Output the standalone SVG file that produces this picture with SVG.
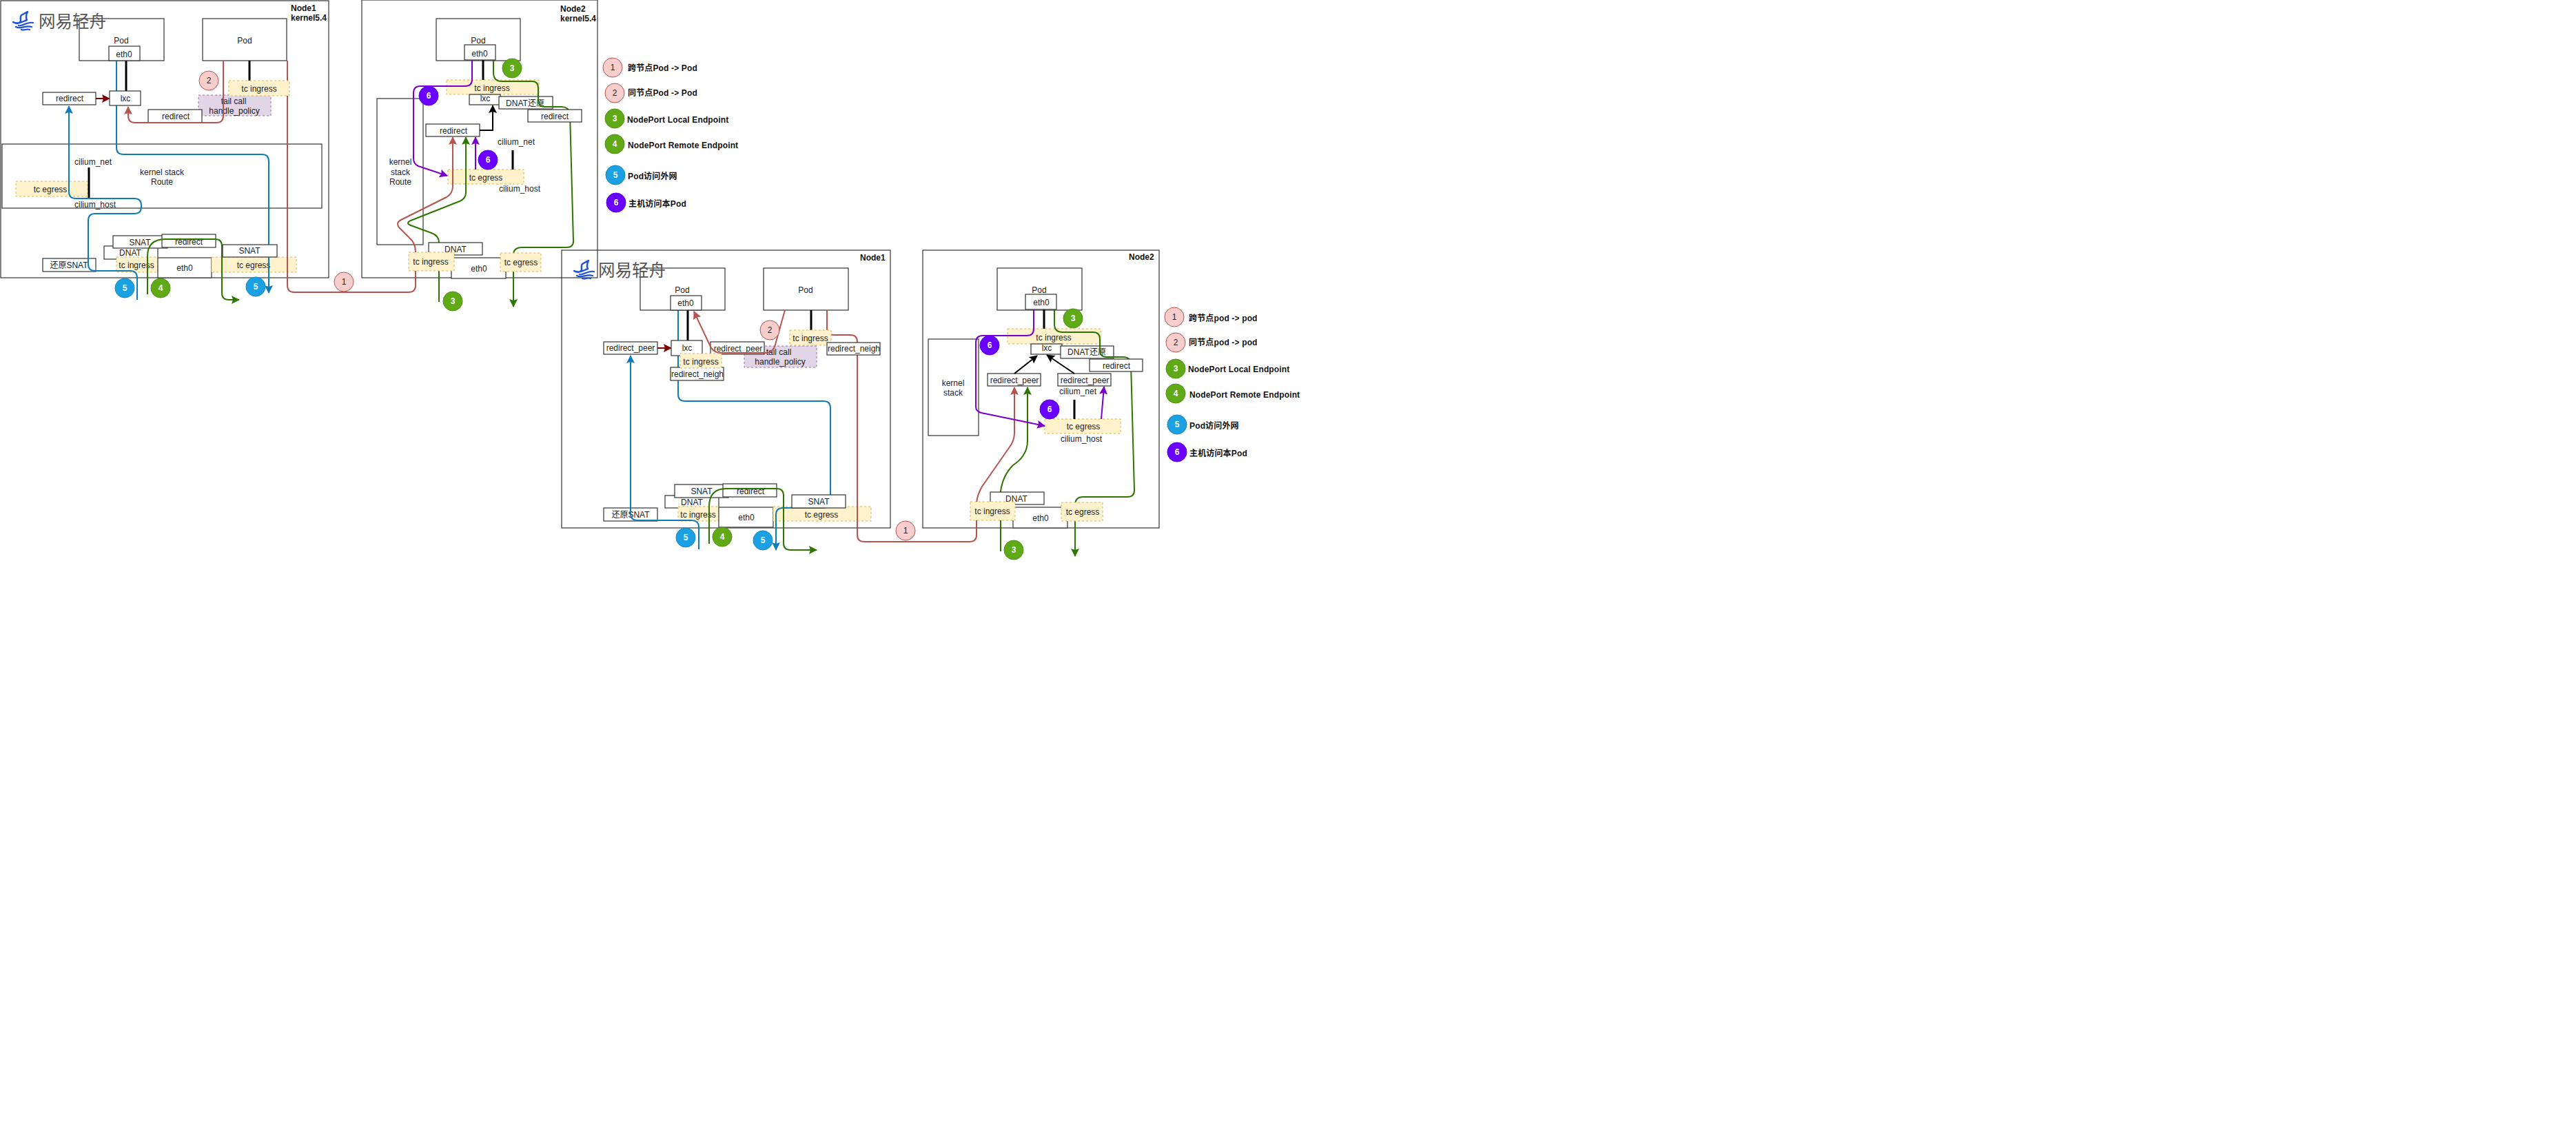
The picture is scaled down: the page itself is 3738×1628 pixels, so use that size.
<svg xmlns="http://www.w3.org/2000/svg" width="3738" height="1628" viewBox="0 0 3738 1628">
<style>
text{font-family:"Liberation Sans","Noto Sans CJK SC",sans-serif;font-size:12px;fill:#222;text-anchor:middle}
.box{fill:#fff;stroke:#333;stroke-width:1.2}
.frame{fill:none;stroke:#333;stroke-width:1.2}
.tc{fill:#fff2cc;stroke:#d6b656;stroke-width:1;stroke-dasharray:3 3}
.tail{fill:#e1d5e7;stroke:#9673a6;stroke-width:1;stroke-dasharray:3 3}
.bar{fill:none;stroke:#000;stroke-width:3}
.lab{font-weight:bold;text-anchor:start;fill:#111}
#legend1 .lab,#legend2 .lab{letter-spacing:.15px}
.logo{font-size:24.5px;fill:#555;text-anchor:start}
.c{fill:none;stroke-width:2}
.red{stroke:#b85450}.blue{stroke:#0f7cba}.green{stroke:#2d7600}.purple{stroke:#7a00cc}.blk{stroke:#000}.dred{stroke:#7f0000}
.n1{fill:#f8cecc;stroke:#b85450}.n3{fill:#60a917;stroke:#4f9212}.n5{fill:#1ba1e2;stroke:#1689c4}.n6{fill:#6a00ff;stroke:#5a00dd}
.w{fill:#fff;font-weight:bold}
</style>
<defs>
<marker id="mr" markerUnits="userSpaceOnUse" markerWidth="12" markerHeight="12" viewBox="0 0 12 12" refX="11" refY="6" orient="auto"><path d="M0 0L12 6L0 12L2 6Z" fill="#b85450"/></marker>
<marker id="mb" markerUnits="userSpaceOnUse" markerWidth="12" markerHeight="12" viewBox="0 0 12 12" refX="11" refY="6" orient="auto"><path d="M0 0L12 6L0 12L2 6Z" fill="#0f7cba"/></marker>
<marker id="mg" markerUnits="userSpaceOnUse" markerWidth="12" markerHeight="12" viewBox="0 0 12 12" refX="11" refY="6" orient="auto"><path d="M0 0L12 6L0 12L2 6Z" fill="#2d7600"/></marker>
<marker id="mp" markerUnits="userSpaceOnUse" markerWidth="12" markerHeight="12" viewBox="0 0 12 12" refX="11" refY="6" orient="auto"><path d="M0 0L12 6L0 12L2 6Z" fill="#7a00cc"/></marker>
<marker id="mk" markerUnits="userSpaceOnUse" markerWidth="12" markerHeight="12" viewBox="0 0 12 12" refX="11" refY="6" orient="auto"><path d="M0 0L12 6L0 12L2 6Z" fill="#000"/></marker>
<marker id="md" markerUnits="userSpaceOnUse" markerWidth="12" markerHeight="12" viewBox="0 0 12 12" refX="11" refY="6" orient="auto"><path d="M0 0L12 6L0 12L2 6Z" fill="#7f0000"/></marker>
<g id="sail">
<path d="M1 16C6 19 10 18 12 15C12 11 11 8 13 6L22 1C20 5 19 9 21 13C15 15 9 20 1 16Z" fill="#fff" stroke="#1d4fe0" stroke-width="2.4" stroke-linejoin="round"/>
<path d="M9 21C15 23 20 15 30 17M5 23C12 27 19 20 28 23M13 27C17 29 20 25 25 27" fill="none" stroke="#1d4fe0" stroke-width="2.2" stroke-linecap="round"/>
</g>
</defs>
<rect width="3738" height="1628" fill="#fff"/>

<g id="under-nodes">
<g id="a-frame"><rect class="frame" x="1" y="1" width="476" height="402"/><text class="lab" x="422" y="16">Node1</text><text class="lab" x="422" y="30">kernel5.4</text></g>
<g id="a-pod1"><rect class="box" x="115" y="27" width="123" height="61"/><text x="176" y="63">Pod</text></g>
<g id="a-pod2"><rect class="box" x="294" y="27" width="122" height="61"/><text x="355" y="63">Pod</text></g>
<g id="a-redirect1"><rect class="box" x="62" y="134" width="77" height="18"/><text x="101" y="147">redirect</text></g>
<g id="a-tail"><rect class="tail" x="288" y="138" width="105" height="30"/><text x="339" y="151">tail call</text><text x="340" y="165">handle_policy</text></g>
<g id="a-redirect2"><rect class="box" x="215" y="159" width="78" height="19"/><text x="255" y="173">redirect</text></g>
<g id="a-stack"><rect class="frame" x="3" y="209" width="464" height="93"/><text x="235" y="254">kernel stack</text><text x="235" y="268">Route</text></g>
<g id="a-cnet"><text x="135" y="239">cilium_net</text></g>
<g id="a-chost"><text x="138" y="301">cilium_host</text></g>
<g id="a-tcegress1"><rect class="tc" x="23" y="263" width="104" height="22"/><text x="73" y="279">tc egress</text></g>
<g id="a-dnat"><rect class="box" x="151" y="357" width="78" height="19"/><text x="189" y="371">DNAT</text></g>
<g id="a-snat"><rect class="box" x="164" y="342" width="79" height="18"/><text x="203" y="356">SNAT</text></g>
<g id="a-redirect3"><rect class="box" x="235" y="340" width="78" height="19"/><text x="274" y="355">redirect</text></g>
<g id="a-tcingress2"><rect class="tc" x="169" y="373" width="60" height="22"/><text x="198" y="389">tc ingress</text></g>
<g id="a-eth0b"><rect class="box" x="229" y="374" width="78" height="29"/><text x="268" y="393">eth0</text></g>
<g id="a-tcegress2"><rect class="tc" x="307" y="373" width="123" height="22"/><text x="368" y="389">tc egress</text></g>
<g id="a-restore"><rect class="box" x="62" y="375" width="77" height="19"/><text x="100" y="389">还原SNAT</text></g>

<g id="b-frame"><rect class="frame" x="525" y="0" width="342" height="403"/><text class="lab" x="813" y="17">Node2</text><text class="lab" x="813" y="31">kernel5.4</text></g>
<g id="b-pod"><rect class="box" x="633" y="27" width="122" height="61"/><text x="694" y="63">Pod</text></g>
<g id="b-tcingress"><rect class="tc" x="648" y="116" width="134" height="21"/><text x="714" y="132">tc ingress</text></g>
<g id="b-lxc"><rect class="box" x="681" y="137" width="45" height="15"/><text x="704" y="147">lxc</text></g>
<g id="b-dnatr"><rect class="box" x="724" y="140" width="78" height="18"/><text x="762" y="154">DNAT还原</text></g>
<g id="b-redirect1"><rect class="box" x="618" y="180" width="78" height="18"/><text x="658" y="194">redirect</text></g>
<g id="b-stack"><rect class="frame" x="547" y="143" width="67" height="212"/><text x="581" y="239">kernel</text><text x="581" y="254">stack</text><text x="581" y="268">Route</text></g>
<g id="b-cnet"><text x="749" y="210">cilium_net</text></g>
<g id="b-chost"><text x="754" y="278">cilium_host</text></g>
<g id="b-tcegress"><rect class="tc" x="650" y="246" width="110" height="21"/><text x="705" y="262">tc egress</text></g>
<g id="b-eth0b"><rect class="box" x="655" y="374" width="79" height="30"/><text x="695" y="394">eth0</text></g>

<g id="c-frame"><rect class="frame" x="815" y="363" width="477" height="403"/><text class="lab" x="1248" y="378">Node1</text></g>
<g id="c-pod1"><rect class="box" x="929" y="389" width="123" height="61"/><text x="990" y="425">Pod</text></g>
<g id="c-pod2"><rect class="box" x="1108" y="389" width="123" height="61"/><text x="1169" y="425">Pod</text></g>
<g id="c-rpeer1"><rect class="box" x="876" y="496" width="78" height="18"/><text x="915" y="509">redirect_peer</text></g>
<g id="c-tail"><rect class="tail" x="1080" y="502" width="105" height="31"/><text x="1130" y="515">tail call</text><text x="1132" y="529">handle_policy</text></g>
<g id="c-rpeer2"><rect class="box" x="1031" y="496" width="78" height="18"/><text x="1071" y="510">redirect_peer</text></g>
<g id="c-dnat"><rect class="box" x="965" y="719" width="78" height="18"/><text x="1004" y="733">DNAT</text></g>
<g id="c-snat"><rect class="box" x="979" y="703" width="78" height="19"/><text x="1018" y="717">SNAT</text></g>
<g id="c-redirect"><rect class="box" x="1049" y="702" width="78" height="19"/><text x="1089" y="717">redirect</text></g>
<g id="c-tcingress2"><rect class="tc" x="984" y="735" width="59" height="21"/><text x="1013" y="751">tc ingress</text></g>
<g id="c-eth0b"><rect class="box" x="1043" y="736" width="79" height="29"/><text x="1083" y="755">eth0</text></g>
<g id="c-tcegress"><rect class="tc" x="1122" y="735" width="142" height="21"/><text x="1192" y="751">tc egress</text></g>
<g id="c-restore"><rect class="box" x="876" y="737" width="78" height="19"/><text x="915" y="751">还原SNAT</text></g>

<g id="d-frame"><rect class="frame" x="1339" y="363" width="343" height="403"/><text class="lab" x="1638" y="377">Node2</text></g>
<g id="d-pod"><rect class="box" x="1447" y="389" width="123" height="61"/><text x="1508" y="425">Pod</text></g>
<g id="d-tcingress"><rect class="tc" x="1462" y="477" width="135" height="22"/><text x="1529" y="494">tc ingress</text></g>
<g id="d-lxc"><rect class="box" x="1496" y="499" width="45" height="15"/><text x="1519" y="509">lxc</text></g>
<g id="d-dnatr"><rect class="box" x="1539" y="502" width="77" height="18"/><text x="1577" y="515">DNAT还原</text></g>
<g id="d-rpeer1"><rect class="box" x="1433" y="542" width="77" height="18"/><text x="1472" y="556">redirect_peer</text></g>
<g id="d-rpeer2"><rect class="box" x="1535" y="542" width="77" height="18"/><text x="1574" y="556">redirect_peer</text></g>
<g id="d-cnet"><text x="1564" y="572">cilium_net</text></g>
<g id="d-stack"><rect class="frame" x="1347" y="492" width="73" height="140"/><text x="1383" y="560">kernel</text><text x="1383" y="574">stack</text></g>
<g id="d-tcegress"><rect class="tc" x="1516" y="608" width="110" height="21"/><text x="1572" y="623">tc egress</text></g>
<g id="d-chost"><text x="1569" y="641">cilium_host</text></g>
<g id="d-eth0b"><rect class="box" x="1470" y="736" width="79" height="30"/><text x="1510" y="756">eth0</text></g>
</g>

<g id="connectors">
<path class="bar" d="M183 88V132M362 88V117M129 243V287M701 87V116M744 218V246M998 450V494M1177 450V479M1515 449V477M1559 580V608"/>
<path class="c dred" d="M139 143H159" marker-end="url(#md)"/>
<path class="c dred" d="M954 505H974" marker-end="url(#md)"/>
<path class="c red" d="M324 88V168Q324 178 314 178H196Q186 178 186 168V155" marker-end="url(#mr)"/>
<path class="c red" d="M417 88V414Q417 424 427 424H593Q603 424 603 414V365Q603 353 594 345L579 330Q574 323 582 319L648 286Q657 281 657 270V199" marker-end="url(#mr)"/>
<path class="c blue" d="M169 88V214Q169 224 179 224H380Q390 224 390 234V425" marker-end="url(#mb)"/>
<path class="c blue" d="M199 435V403Q199 393 189 393H138Q128 393 128 383V320Q128 310 138 310H195Q205 310 205 300V298Q205 288 195 288H110Q100 288 100 278V154" marker-end="url(#mb)"/>
<path class="c green" d="M214 427V372Q214 347 240 347H312Q322 347 322 357V425Q322 435 332 435H347" marker-end="url(#mg)"/>
<path class="c green" d="M637 438V352Q637 342 626 338L596 327Q588 324 596 320L667 292Q676 288 676 280V199" marker-end="url(#mg)"/>
<path class="c purple" d="M685 87V115Q685 125 675 125H610Q600 125 600 135V230Q600 238 607 241L649 255" marker-end="url(#mp)"/>
<path class="c purple" d="M690 246V199" marker-end="url(#mp)"/>
<path class="c green" d="M716 87V105Q716 118 728 118H772Q781 118 781 128V145Q781 155 791 155H815Q825 155 827 165L832 350Q832 359 822 359H757Q745 359 745 370V445" marker-end="url(#mg)"/>
<path class="c blk" d="M696 189H715V153" marker-end="url(#mk)"/>
<path class="c blue" d="M984 450V572Q984 582 994 582H1195Q1205 582 1205 592V727Q1205 737 1195 737H1136Q1126 737 1126 747V798" marker-end="url(#mb)"/>
<path class="c blue" d="M1014 797V765Q1014 755 1004 755H925Q915 755 915 745V516" marker-end="url(#mb)"/>
<path class="c green" d="M1029 789V735Q1029 709 1054 709H1127Q1137 709 1137 719V788Q1137 798 1147 798H1185" marker-end="url(#mg)"/>
<path class="c red" d="M1139 450L1125 500Q1122 512 1110 512H1046Q1036 512 1031 503L1007 452" marker-end="url(#mr)"/>
<path class="c red" d="M1200 450V476Q1200 486 1210 486H1234Q1244 486 1244 496V776Q1244 786 1254 786H1407Q1417 786 1417 776V730Q1418 718 1425 706L1464 650Q1472 640 1472 628V562" marker-end="url(#mr)"/>
<path class="c green" d="M1452 800V713Q1455 690 1470 675Q1480 668 1484 662Q1491 652 1491 640V562" marker-end="url(#mg)"/>
<path class="c purple" d="M1500 449V477Q1500 487 1490 487H1426Q1416 487 1416 497V590Q1416 597 1424 599L1516 618" marker-end="url(#mp)"/>
<path class="c purple" d="M1598 608L1602 561" marker-end="url(#mp)"/>
<path class="c green" d="M1530 449V470Q1530 482 1542 482H1586Q1596 482 1596 492V508Q1596 518 1606 518H1630Q1640 518 1641 528L1646 711Q1646 721 1636 721H1572Q1560 721 1560 733V807" marker-end="url(#mg)"/>
<path class="c blk" d="M1472 542L1505 516" marker-end="url(#mk)"/>
<path class="c blk" d="M1559 542L1519 515" marker-end="url(#mk)"/>
</g>

<g id="over-nodes">
<g id="a-eth01"><rect class="box" x="158" y="67" width="45" height="21"/><text x="180" y="83">eth0</text></g>
<g id="a-lxc"><rect class="box" x="159" y="132" width="45" height="21"/><text x="182" y="147">lxc</text></g>
<g id="a-tcingress1"><rect class="tc" x="332" y="117" width="88" height="22"/><text x="376" y="133">tc ingress</text></g>
<g id="a-snat2"><rect class="box" x="323" y="355" width="79" height="18"/><text x="362" y="368">SNAT</text></g>
<g id="b-eth0"><rect class="box" x="674" y="65" width="45" height="22"/><text x="696" y="82">eth0</text></g>
<g id="b-redirect2"><rect class="box" x="766" y="159" width="78" height="18"/><text x="805" y="173">redirect</text></g>
<g id="b-dnat"><rect class="box" x="622" y="352" width="78" height="18"/><text x="661" y="366">DNAT</text></g>
<g id="b-tcingress2"><rect class="tc" x="593" y="366" width="66" height="27"/><text x="625" y="384">tc ingress</text></g>
<g id="b-tcegress2"><rect class="tc" x="726" y="367" width="59" height="27"/><text x="756" y="385">tc egress</text></g>
<g id="c-eth0"><rect class="box" x="973" y="429" width="45" height="21"/><text x="995" y="444">eth0</text></g>
<g id="c-lxc"><rect class="box" x="974" y="494" width="45" height="22"/><text x="997" y="509">lxc</text></g>
<g id="c-rneigh1"><rect class="box" x="973" y="533" width="77" height="19"/><text x="1012" y="547">redirect_neigh</text></g>
<g id="c-tcingress1"><rect class="tc" x="987" y="513" width="60" height="21"/><text x="1017" y="529">tc ingress</text></g>
<g id="c-tcingress3"><rect class="tc" x="1146" y="479" width="60" height="22"/><text x="1176" y="495">tc ingress</text></g>
<g id="c-rneigh2"><rect class="box" x="1200" y="497" width="77" height="18"/><text x="1239" y="510">redirect_neigh</text></g>
<g id="c-snat2"><rect class="box" x="1149" y="718" width="78" height="19"/><text x="1188" y="732">SNAT</text></g>
<g id="d-eth0"><rect class="box" x="1488" y="427" width="45" height="22"/><text x="1511" y="443">eth0</text></g>
<g id="d-redirect"><rect class="box" x="1581" y="521" width="77" height="18"/><text x="1620" y="535">redirect</text></g>
<g id="d-dnat"><rect class="box" x="1437" y="714" width="78" height="18"/><text x="1475" y="728">DNAT</text></g>
<g id="d-tcingress2"><rect class="tc" x="1408" y="728" width="65" height="27"/><text x="1440" y="746">tc ingress</text></g>
<g id="d-tcegress2"><rect class="tc" x="1540" y="729" width="60" height="27"/><text x="1571" y="747">tc egress</text></g>
</g>

<g id="logos">
<g id="logo1"><use href="#sail" x="18" y="16"/><text class="logo" x="56" y="40">网易轻舟</text></g>
<g id="logo2"><use href="#sail" x="832" y="377"/><text class="logo" x="868" y="401">网易轻舟</text></g>
</g>

<g id="badges">
<g id="a-n2"><circle class="n1" cx="303" cy="117" r="14"/><text x="303" y="121">2</text></g>
<g id="a-n5"><circle class="n5" cx="181" cy="418" r="14"/><text class="w" x="181" y="422">5</text></g>
<g id="a-n4"><circle class="n3" cx="233" cy="418" r="14"/><text class="w" x="233" y="422">4</text></g>
<g id="a-n5b"><circle class="n5" cx="371" cy="416" r="14"/><text class="w" x="371" y="420">5</text></g>
<g id="a-n1"><circle class="n1" cx="499" cy="409" r="14"/><text x="499" y="413">1</text></g>
<g id="b-n3"><circle class="n3" cx="743" cy="99" r="14"/><text class="w" x="743" y="103">3</text></g>
<g id="b-n6"><circle class="n6" cx="622" cy="139" r="14"/><text class="w" x="622" y="143">6</text></g>
<g id="b-n6b"><circle class="n6" cx="708" cy="232" r="14"/><text class="w" x="708" y="236">6</text></g>
<g id="b-n3b"><circle class="n3" cx="657" cy="437" r="14"/><text class="w" x="657" y="441">3</text></g>
<g id="c-n2"><circle class="n1" cx="1117" cy="479" r="14"/><text x="1117" y="483">2</text></g>
<g id="c-n5"><circle class="n5" cx="995" cy="780" r="14"/><text class="w" x="995" y="784">5</text></g>
<g id="c-n4"><circle class="n3" cx="1048" cy="779" r="14"/><text class="w" x="1048" y="783">4</text></g>
<g id="c-n5b"><circle class="n5" cx="1107" cy="784" r="14"/><text class="w" x="1107" y="788">5</text></g>
<g id="d-n1"><circle class="n1" cx="1314" cy="770" r="14"/><text x="1314" y="774">1</text></g>
<g id="d-n3"><circle class="n3" cx="1557" cy="462" r="14"/><text class="w" x="1557" y="466">3</text></g>
<g id="d-n6"><circle class="n6" cx="1436" cy="501" r="14"/><text class="w" x="1436" y="505">6</text></g>
<g id="d-n6b"><circle class="n6" cx="1523" cy="594" r="14"/><text class="w" x="1523" y="598">6</text></g>
<g id="d-n3b"><circle class="n3" cx="1471" cy="798" r="14"/><text class="w" x="1471" y="802">3</text></g>
</g>

<g id="legend1">
<g id="l1-1"><circle class="n1" cx="889" cy="98" r="14"/><text x="889" y="102">1</text><text class="lab" x="911" y="103">跨节点Pod -&gt; Pod</text></g>
<g id="l1-2"><circle class="n1" cx="892" cy="135" r="14"/><text x="892" y="139">2</text><text class="lab" x="911" y="139">同节点Pod -&gt; Pod</text></g>
<g id="l1-3"><circle class="n3" cx="892" cy="172" r="14"/><text class="w" x="892" y="176">3</text><text class="lab" x="910" y="178">NodePort Local Endpoint</text></g>
<g id="l1-4"><circle class="n3" cx="892" cy="209" r="14"/><text class="w" x="892" y="213">4</text><text class="lab" x="911" y="215">NodePort Remote Endpoint</text></g>
<g id="l1-5"><circle class="n5" cx="893" cy="254" r="14"/><text class="w" x="893" y="258">5</text><text class="lab" x="911" y="260">Pod访问外网</text></g>
<g id="l1-6"><circle class="n6" cx="894" cy="294" r="14"/><text class="w" x="894" y="298">6</text><text class="lab" x="912" y="300">主机访问本Pod</text></g>
</g>

<g id="legend2">
<g id="l2-1"><circle class="n1" cx="1704" cy="460" r="14"/><text x="1704" y="464">1</text><text class="lab" x="1725" y="466">跨节点pod -&gt; pod</text></g>
<g id="l2-2"><circle class="n1" cx="1706" cy="497" r="14"/><text x="1706" y="501">2</text><text class="lab" x="1725" y="501">同节点pod -&gt; pod</text></g>
<g id="l2-3"><circle class="n3" cx="1706" cy="535" r="14"/><text class="w" x="1706" y="539">3</text><text class="lab" x="1724" y="540">NodePort Local Endpoint</text></g>
<g id="l2-4"><circle class="n3" cx="1706" cy="571" r="14"/><text class="w" x="1706" y="575">4</text><text class="lab" x="1726" y="577">NodePort Remote Endpoint</text></g>
<g id="l2-5"><circle class="n5" cx="1708" cy="616" r="14"/><text class="w" x="1708" y="620">5</text><text class="lab" x="1726" y="622">Pod访问外网</text></g>
<g id="l2-6"><circle class="n6" cx="1708" cy="656" r="14"/><text class="w" x="1708" y="660">6</text><text class="lab" x="1726" y="662">主机访问本Pod</text></g>
</g>
</svg>
